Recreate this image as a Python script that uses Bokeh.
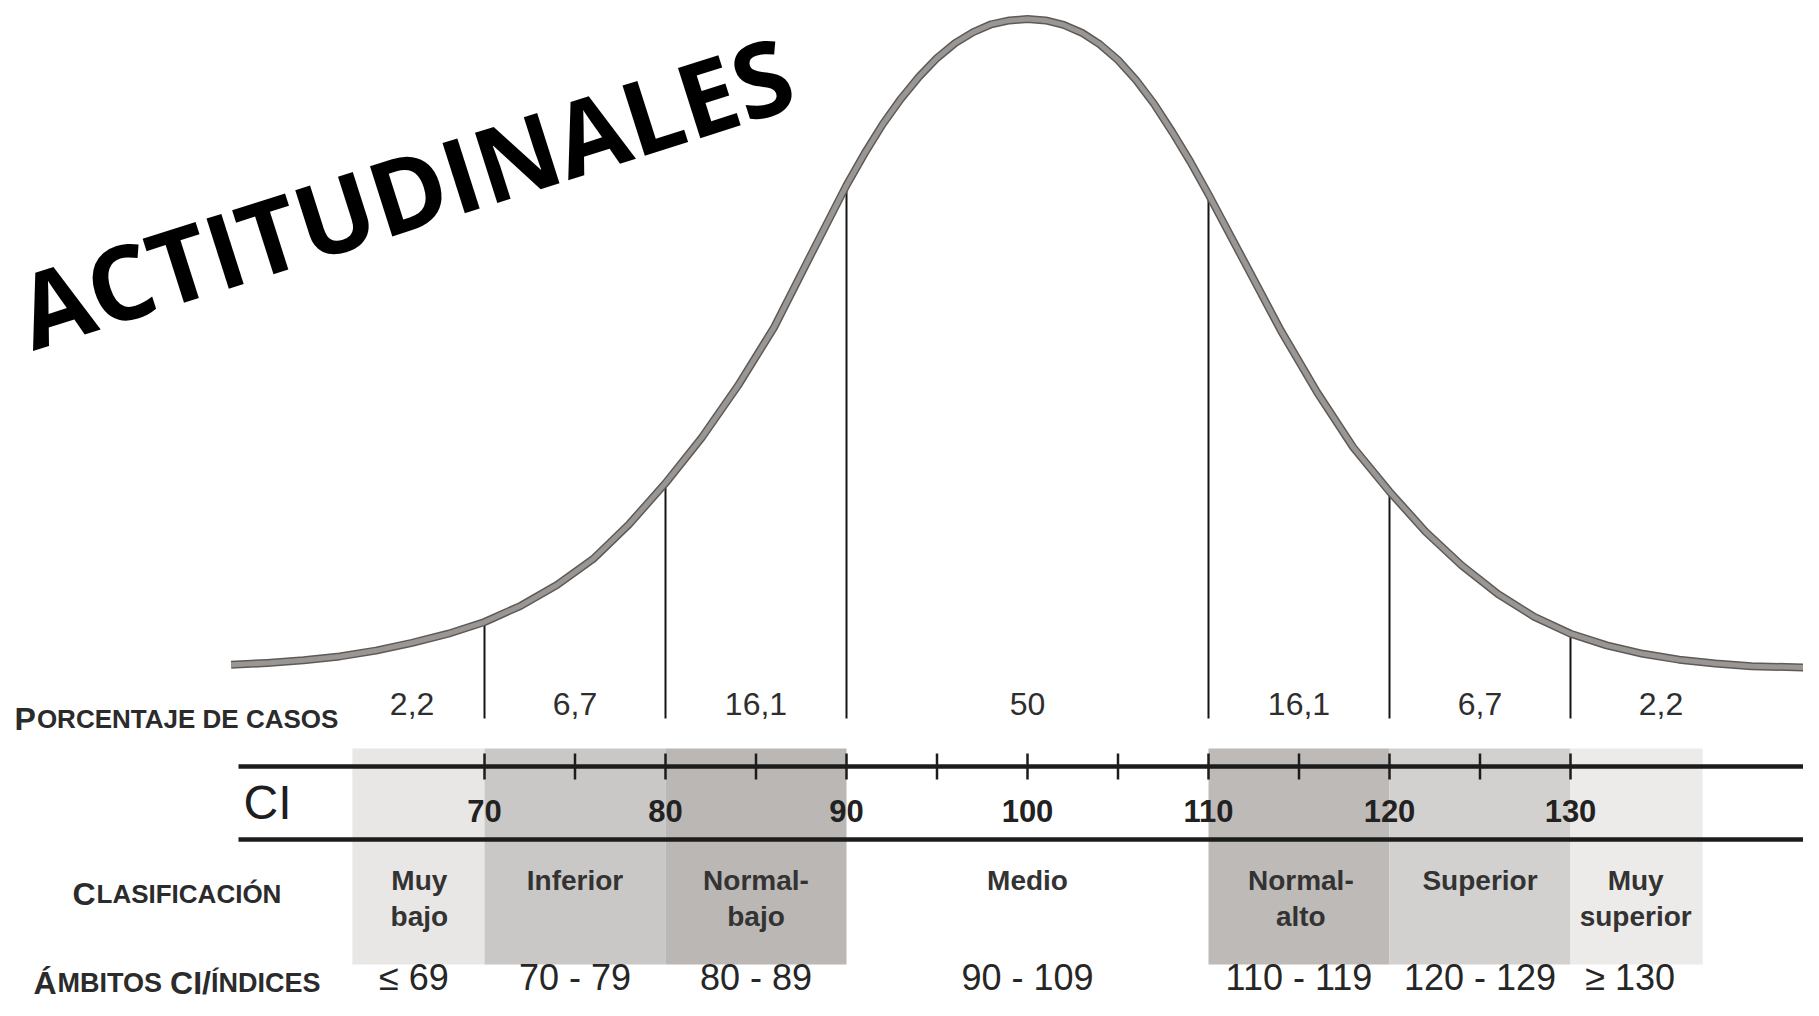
import math
from bokeh.plotting import figure
from bokeh.models import Range1d
from bokeh.core.properties import value
from bokeh.embed import file_html
from bokeh.resources import INLINE

# ---------------- data ----------------
curve_iq = [56, 58, 60, 62, 64, 66, 68, 70, 72, 74, 76, 78, 80, 82, 84, 86, 88,
            90, 91, 92, 93, 94, 95, 96, 97, 98, 99, 100, 101, 102, 103, 104,
            105, 106, 107, 108, 109, 110, 112, 114, 116, 118, 120, 122, 124,
            126, 128, 130, 132, 134, 136, 138, 140, 144]
curve_h = [0.5, 0.8, 1.2, 1.8, 2.7, 3.9, 5.3, 7.1, 9.6, 12.8, 16.8, 22.2, 28.5,
           35.5, 43.5, 52.5, 63.5, 74.4, 79.3, 83.8, 87.7, 91.1, 94.0, 96.3,
           98.0, 99.2, 99.8, 100.0, 99.8, 99.1, 97.9, 96.1, 93.7, 90.6, 86.9,
           82.6, 78.0, 73.0, 62.5, 52.0, 42.5, 34.0, 27.2, 21.0, 15.8, 11.4,
           7.9, 5.3, 3.5, 2.2, 1.3, 0.7, 0.3, 0.0]
cut_points = [70, 80, 90, 110, 120, 130]
ci_ticks = [70, 80, 90, 100, 110, 120, 130]
ci_minor = [75, 85, 95, 105, 115, 125]
pct_cases = [2.2, 6.7, 16.1, 50, 16.1, 6.7, 2.2]
pct_x = [66, 75, 85, 100, 115, 125, 135]
classes = ["Muy bajo", "Inferior", "Normal-bajo", "Medio", "Normal-alto",
           "Superior", "Muy superior"]
class_x = [66.4, 75, 85, 100, 115.1, 125, 133.6]
ranges = ["\u2264 69", "70 - 79", "80 - 89", "90 - 109", "110 - 119",
          "120 - 129", "\u2265 130"]
range_x = [66.1, 75, 85, 100, 115, 125, 133.3]
band_edges = [62.7, 70, 80, 90, 110, 120, 130, 137.3]
band_colors = ["#e8e7e6", "#cac8c6", "#bab7b5", None, "#bdbab8", "#d3d1cf",
               "#ecebea"]

# ---------------- layout helpers (picture pixels -> plot units) ----------------
def X(px):
    return 70 + (px - 484) / 18.1

def Y(py):
    return (667.6 - py) / 6.49

W, H = 1803, 1000
p = figure(width=W, height=H, output_backend="svg", toolbar_location=None,
           x_range=Range1d(X(0), X(W)), y_range=Range1d(Y(H), Y(0)),
           min_border=0, background_fill_color="white",
           border_fill_color="white")
p.axis.visible = False
p.grid.visible = False
p.outline_line_color = None

SANS = value("Liberation Sans")

# shaded classification bands
for i, c in enumerate(band_colors):
    if c is None:
        continue
    p.quad(left=band_edges[i], right=band_edges[i + 1], bottom=Y(964), top=Y(748),
           fill_color=c, line_color=None)

# CI scale lines
p.segment(x0=[X(238), X(238)], x1=[X(1830), X(1830)], y0=[Y(766), Y(839)],
          y1=[Y(766), Y(839)], line_color="#1c1c1c", line_width=4.5)
all_ticks = sorted(ci_ticks + ci_minor)
p.segment(x0=all_ticks, x1=all_ticks, y0=[Y(753)] * len(all_ticks),
          y1=[Y(779)] * len(all_ticks), line_color="#1c1c1c", line_width=2.5)
p.text(x=ci_ticks, y=[Y(810)] * len(ci_ticks), text=[str(t) for t in ci_ticks],
       text_font=SANS, text_font_style="bold", text_font_size="31px",
       text_align="center", text_baseline="middle", text_color="#222222")
p.text(x=[X(243)], y=[Y(802)], text=["CI"], text_font=SANS,
       text_font_size="48px", text_align="left", text_baseline="middle",
       text_color="#1e1e1e")

# vertical cut lines from the curve down to the percentage row
cut_top = [curve_h[curve_iq.index(c)] for c in cut_points]
p.segment(x0=cut_points, x1=cut_points, y0=cut_top, y1=[Y(718)] * len(cut_points),
          line_color="#151515", line_width=2)

# percentage of cases
p.text(x=pct_x, y=[Y(703)] * len(pct_x),
       text=[("%g" % v).replace(".", ",") for v in pct_cases],
       text_font=SANS, text_font_size="32px", text_align="center",
       text_baseline="middle", text_color="#2e2e2e")

# classification
p.text(x=class_x, y=[Y(864)] * len(class_x),
       text=[c.replace("Muy ", "Muy\n").replace("-", "-\n") for c in classes],
       text_font=SANS, text_font_style="bold", text_font_size="28px",
       text_align="center", text_baseline="top", text_line_height=1.18,
       text_color="#333333")

# ranges
p.text(x=range_x, y=[Y(977)] * len(range_x), text=ranges, text_font=SANS,
       text_font_size="36px", text_align="center", text_baseline="middle",
       text_color="#262626")

# small-caps row labels
BIG, SMALL = 32, 26
def smallcaps(x_px, y_px, parts, small=SMALL):
    off = 0.0
    for txt, big, w in parts:
        size = BIG if big else small
        p.text(x=[X(x_px)], y=[Y(y_px)], text=[txt], x_offset=off,
               text_font=SANS, text_font_style="bold",
               text_font_size="%dpx" % size,
               text_align="left", text_baseline="alphabetic",
               text_color="#2b2b2b")
        off += w * size

smallcaps(14, 718, [("P", True, 0.70), ("ORCENTAJE DE CASOS", False, 0)])
smallcaps(72, 893, [("C", True, 0.75), ("LASIFICACI\u00d3N", False, 0)])
smallcaps(33, 982, [("\u00c1", True, 0.75), ("MBITOS ", False, 4.17),
                    ("CI/", True, 1.28), ("\u00cdNDICES", False, 0)], small=27)

# bell curve
p.line(curve_iq, curve_h, line_color="#5e5a58", line_width=8, line_join="round")
p.line(curve_iq, curve_h, line_color="#9a9694", line_width=5, line_join="round")

# title
p.text(x=[X(404)], y=[Y(190)], text=["ACTITUDINALES"], text_font=value("Open Sans"),
       text_font_style="bold", text_font_size="103px", text_align="center",
       text_baseline="middle", angle=17.7 * math.pi / 180, text_color="black")

open("out.html", "w").write(file_html(p, INLINE))
